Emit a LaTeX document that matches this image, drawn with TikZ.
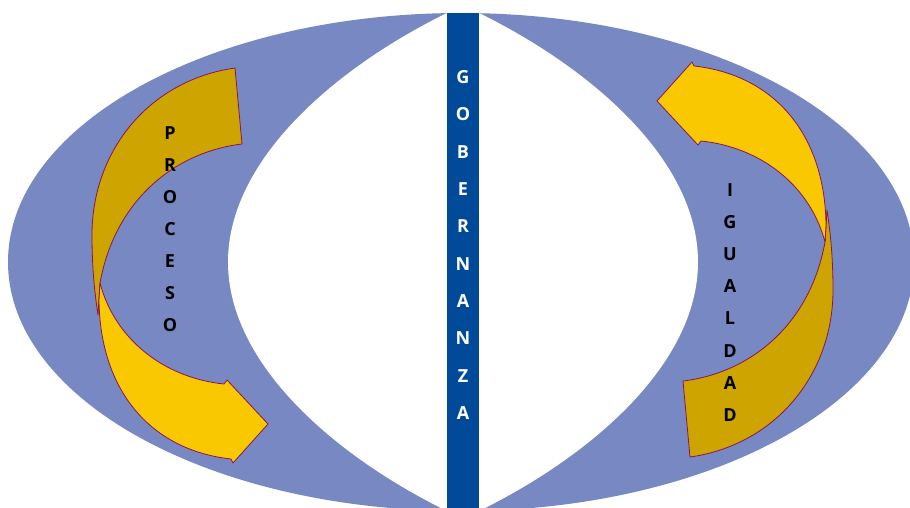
\documentclass[tikz,border=0pt]{standalone}
\usepackage{fontspec}
\setmainfont{Open Sans}
\definecolor{ellblue}{RGB}{120,136,195}
\definecolor{barblue}{RGB}{0,74,153}
\definecolor{golddark}{RGB}{205,164,0}
\definecolor{goldlight}{RGB}{250,200,0}
\definecolor{arrowedge}{RGB}{140,20,80}
\tikzset{
  bandback/.style={fill=golddark, draw=arrowedge, line width=0.8pt, line join=round},
  bandfront/.style={fill=goldlight, draw=arrowedge, line width=0.8pt, line join=round},
  bartext/.style={text=white, font=\bfseries\fontsize{18}{20}\selectfont, inner sep=0pt},
  sidetext/.style={text=black, font=\bfseries\fontsize{18}{20}\selectfont, inner sep=0pt}
}
\begin{document}
\begin{tikzpicture}[x=1pt,y=-1pt]
\useasboundingbox (0,0) rectangle (910,507);
\clip (0,0) rectangle (910,507);
% big ellipse
\fill[ellblue] (461,262) ellipse [x radius=453, y radius=249];
% white lens
\fill[white] (447,13) .. controls (335,68) and (228,160) .. (228,262)
  .. controls (228,364) and (335,456) .. (447,511) -- (479,511)
  .. controls (591,456) and (698,364) .. (698,262)
  .. controls (698,160) and (591,68) .. (479,13) -- cycle;
% central bar
\fill[barblue] (447,12.7) rectangle (479,510);
% left curved arrow
\path[bandback] (235,68) .. controls (150,80) and (92,150) .. (92,235)
  .. controls (92,270) and (95,295) .. (98,315) -- (100,283)
  .. controls (115,200) and (175,152) .. (242,144) -- cycle;
\path[bandfront] (100,283) .. controls (115,340) and (165,378) .. (224,384)
  -- (227,380) -- (268,424) -- (233,463) -- (231,459)
  .. controls (150,450) and (100,390) .. (99,300) -- cycle;
% right curved arrow (same shape turned half a turn)
\begin{scope}[rotate around={180:(462.5,262.5)}]
\path[bandback] (235,68) .. controls (150,80) and (92,150) .. (92,235)
  .. controls (92,270) and (95,295) .. (98,315) -- (100,283)
  .. controls (115,200) and (175,152) .. (242,144) -- cycle;
\path[bandfront] (100,283) .. controls (115,340) and (165,378) .. (224,384)
  -- (227,380) -- (268,424) -- (233,463) -- (231,459)
  .. controls (150,450) and (100,390) .. (99,300) -- cycle;
\end{scope}
% texts
\foreach \l [count=\i] in {G,O,B,E,R,N,A,N,Z,A}
  \node[bartext] (g\i) at (463,{77+37.33*(\i-1)}) {\l};
\foreach \l [count=\i] in {P,R,O,C,E,S,O}
  \node[sidetext] (p\i) at (170,{133+32*(\i-1)}) {\l};
\foreach \l [count=\i] in {I,G,U,A,L,D,A,D}
  \node[sidetext] (q\i) at (730,{190+32.14*(\i-1)}) {\l};
\end{tikzpicture}
\end{document}
